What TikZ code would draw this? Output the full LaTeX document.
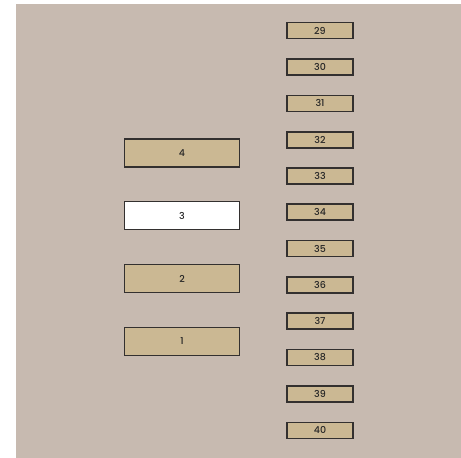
\documentclass[tikz,border=0pt]{standalone}
\usepackage{fontspec}
\setmainfont{Poppins}[UprightFont=* Medium]
\usepackage{xcolor}
\usepackage{tikz}
\definecolor{panel}{HTML}{C7BAB0}
\definecolor{fusefill}{HTML}{CBB893}
\definecolor{edge}{HTML}{33302F}

\begin{document}
\begin{tikzpicture}[x=1pt, y=-1pt,
    every node/.style={draw=edge, line width=1.2pt, inner sep=0pt, text=black!85},
    small/.style={fill=fusefill, minimum width=66pt, minimum height=16pt, font=\fontsize{9.5}{11}\selectfont},
    big/.style={fill=fusefill, minimum width=114.5pt, minimum height=28pt, font=\fontsize{9.5}{11}\selectfont}]

    % Sfondo
    \useasboundingbox (0,0) rectangle (461,458);
    \fill[panel] (16,4) rectangle (461,458);

    % Fusibili grandi
    \node[big] (f4) at (182,153) {4};
    \node[big, fill=white] (f3) at (182,215.7) {3};
    \node[big] (f2) at (182,278.7) {2};
    \node[big] (f1) at (182,341.3) {1};

    % Fusibili piccoli
    \node[small] (f29) at (320,30.8) {29};
    \node[small] (f30) at (320,67) {30};
    \node[small] (f31) at (320,103.3) {31};
    \node[small] (f32) at (320,140) {32};
    \node[small] (f33) at (320,176) {33};
    \node[small] (f34) at (320,212) {34};
    \node[small] (f35) at (320,248.5) {35};
    \node[small] (f36) at (320,285) {36};
    \node[small] (f37) at (320,321) {37};
    \node[small] (f38) at (320,357.5) {38};
    \node[small] (f39) at (320,394) {39};
    \node[small] (f40) at (320,430.2) {40};
\end{tikzpicture}
\end{document}
